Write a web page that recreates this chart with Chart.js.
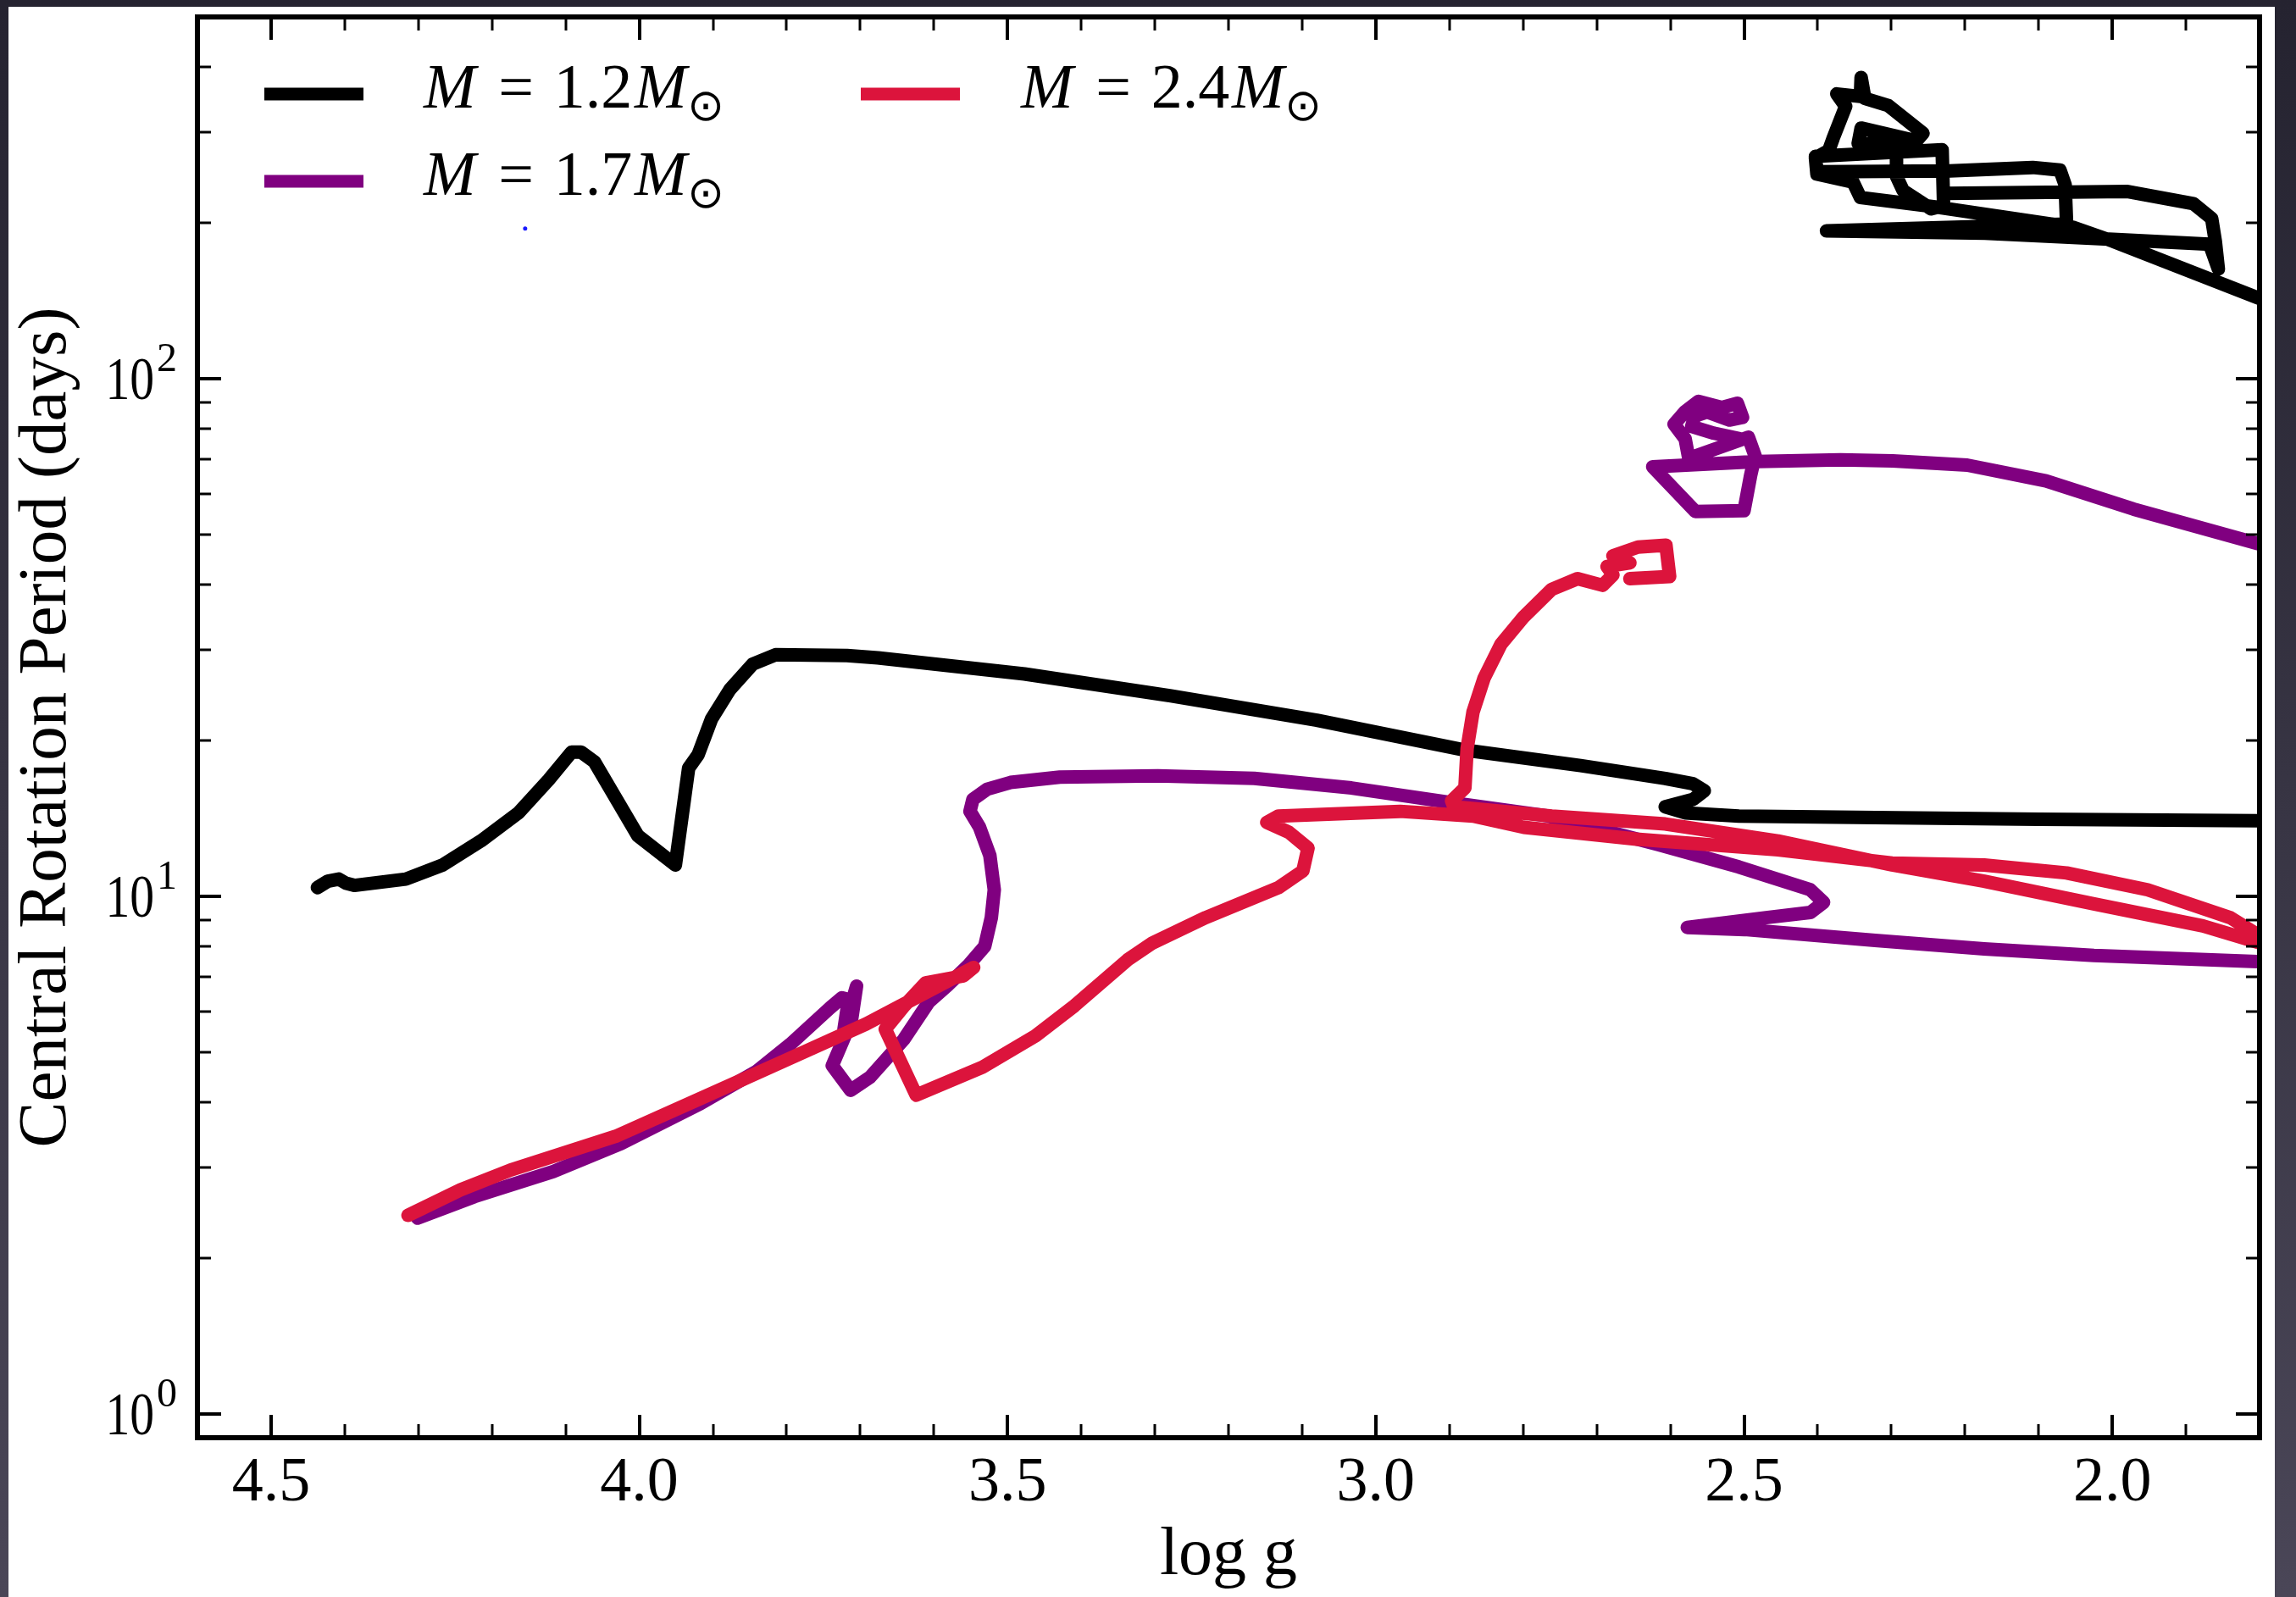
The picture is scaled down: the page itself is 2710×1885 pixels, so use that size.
<!DOCTYPE html>
<html>
<head>
<meta charset="utf-8">
<title>Central rotation period vs log g</title>
<script src="https://cdn.jsdelivr.net/npm/chart.js@4.4.1/dist/chart.umd.min.js"></script>
<style>
  html, body { margin: 0; padding: 0; }
  body {
    width: 2710px; height: 1885px; overflow: hidden; position: relative;
    background: linear-gradient(to bottom, #252330, #4a4657);
  }
  #sheet { position: absolute; left: 10px; top: 8px; width: 2675px; height: 1877px; background: #ffffff; }
  canvas { display: block; }
</style>
</head>
<body>
<div id="sheet"><canvas id="chart" width="2675" height="1877"></canvas></div>
<script>
// ---- data: log g (x) and central rotation period in days (y) for each stellar mass ----
const massLabels = ['1.2', '1.7', '2.4'];

// 1.2 Msun track (red giant branch, then the He-flash loops near log g ~ 2.3)
const logg12 = [4.437, 4.423, 4.408, 4.398, 4.387, 4.317, 4.267, 4.215, 4.164, 4.123,
  4.092, 4.079, 4.061, 4.002, 3.951, 3.933, 3.920, 3.902, 3.877, 3.846,
  3.815, 3.718, 3.676, 3.477, 3.278, 3.080, 2.882, 2.722, 2.607, 2.569,
  2.554, 2.569, 2.607, 2.580, 2.507, 2.322, 2.099, 1.802,
  1.695, 1.695,
  1.803, 1.999, 2.054, 2.241, 2.342, 2.352, 2.401, 2.403, 2.385, 2.379,
  2.362, 2.374, 2.342, 2.341, 2.336, 2.304, 2.257, 2.266, 2.341, 2.345,
  2.293, 2.293, 2.284, 2.246, 2.229, 2.231, 2.403, 2.401, 2.221, 2.108,
  2.071, 2.064, 2.062, 2.388, 2.173, 1.999, 1.868, 1.856, 1.860, 1.865,
  1.890, 1.979, 2.226];
const period12 = [10.4, 10.7, 10.8, 10.6, 10.5, 10.8, 11.5, 12.8, 14.5, 16.8,
  19.0, 19.0, 18.2, 13.1, 11.5, 17.7, 18.8, 22.0, 25.1, 28.1,
  29.3, 29.2, 28.9, 26.9, 24.4, 21.9, 19.2, 17.9, 16.9, 16.5,
  16.0, 15.4, 14.9, 14.5, 14.3, 14.2, 14.1, 14.0,
  14.0, 125,
  143.5, 184.4, 196.3, 214.8, 223.9, 239.9, 248.5, 266.9, 276.0, 291.5,
  336, 355, 351, 382, 348, 337, 298, 288, 305, 285,
  284, 246, 231, 213, 216, 277, 269, 251, 252, 256,
  253, 237, 199, 193, 191, 186, 182, 163, 184, 204,
  218, 230, 228];

// 1.7 Msun track
const logg17 = [4.301, 4.224, 4.117, 4.025, 3.917, 3.841, 3.795, 3.741, 3.725, 3.716,
  3.722, 3.705, 3.712, 3.738, 3.713, 3.687, 3.641, 3.607, 3.581, 3.554,
  3.531, 3.522, 3.518, 3.524, 3.538, 3.551, 3.547, 3.528, 3.496, 3.429,
  3.296, 3.165, 3.033, 2.901, 2.766, 2.617, 2.507, 2.410, 2.392, 2.410,
  2.470, 2.577, 2.499, 2.322, 2.174, 2.025, 1.803,
  1.695, 1.695,
  1.806, 1.971, 2.090, 2.197, 2.298, 2.369, 2.482, 2.624, 2.566, 2.500,
  2.491, 2.485, 2.494, 2.575, 2.580, 2.595, 2.580, 2.562, 2.530, 2.509,
  2.502, 2.520, 2.550, 2.567, 2.571, 2.541, 2.506];
const period17 = [2.39, 2.63, 2.94, 3.33, 3.98, 4.59, 5.18, 6.09, 6.37, 6.32,
  5.54, 6.71, 5.75, 4.71, 4.22, 4.47, 5.29, 6.25, 6.74, 7.34,
  8.01, 9.10, 10.3, 12.0, 13.6, 14.6, 15.4, 16.1, 16.6, 17.0,
  17.1, 16.9, 16.2, 15.2, 14.3, 12.6, 11.4, 10.3, 9.74, 9.31,
  9.10, 8.71, 8.63, 8.22, 7.92, 7.69, 7.48,
  7.4, 43.5,
  48.2, 56.0, 63.5, 68.1, 69.4, 69.7, 69.2, 67.6, 55.4, 55.6,
  65.1, 71.0, 77.1, 70.2, 76.6, 81.7, 86.4, 90.4, 88.0, 89.7,
  84.2, 83.2, 86.3, 84.7, 80.9, 78.5, 76.6];

// 2.4 Msun track
const logg24 = [4.314, 4.243, 4.175, 4.032, 3.917, 3.802, 3.692, 3.603, 3.546, 3.560,
  3.611, 3.640, 3.666, 3.624, 3.534, 3.462, 3.409, 3.337, 3.303, 3.231,
  3.132, 3.099, 3.092, 3.118, 3.148, 3.132, 2.967, 2.868, 2.799, 2.646,
  2.454, 2.299, 2.174, 2.062, 1.952, 1.840, 1.803,
  1.695, 1.695,
  1.803, 1.877, 2.025, 2.174, 2.299, 2.454, 2.607, 2.761, 2.894,
  2.897, 2.879, 2.876, 2.868, 2.853, 2.830, 2.799, 2.761, 2.726,
  2.692, 2.678, 2.686, 2.655, 2.678, 2.644, 2.606, 2.601, 2.655];
const period24 = [2.42, 2.71, 2.96, 3.44, 4.07, 4.82, 5.67, 6.61, 7.29, 7.02,
  6.81, 6.15, 5.54, 4.13, 4.68, 5.38, 6.15, 7.54, 8.13, 9.10,
  10.4, 11.2, 12.4, 13.3, 13.9, 14.3, 14.6, 14.3, 13.6, 12.9,
  12.3, 11.6, 11.5, 11.1, 10.3, 9.10, 8.44,
  6.8, 7.3,
  8.16, 8.77, 9.67, 10.7, 11.5, 12.8, 13.8, 14.3, 14.9,
  15.3, 16.2, 19.3, 22.7, 26.4, 30.7, 34.7, 39.2, 41.1,
  39.9, 41.8, 43.4, 44.1, 45.5, 47.3, 47.7, 41.5, 41.1];

// a single stray marker
const strayLogg = [4.155];
const strayPeriod = [195];

// axis ticks
const xTickValues = [2.0, 2.5, 3.0, 3.5, 4.0, 4.5];
const yDecades = [0, 1, 2];

const SERIF = "'Liberation Serif', 'Times New Roman', serif";
const toPoints = (xs, ys) => xs.map((v, i) => ({ x: v, y: ys[i] }));

const trackStyle = (color, order) => ({
  showLine: true,
  borderColor: color,
  backgroundColor: color,
  borderWidth: 16,
  borderJoinStyle: 'round',
  borderCapStyle: 'round',
  pointRadius: 0,
  pointHoverRadius: 0,
  pointHitRadius: 0,
  clip: 0,
  order: order
});

const datasets = [
  Object.assign({ label: 'M = ' + massLabels[0] + 'M\u2299', mass: massLabels[0], data: toPoints(logg12, period12) }, trackStyle('#000000', 2)),
  Object.assign({ label: 'M = ' + massLabels[1] + 'M\u2299', mass: massLabels[1], data: toPoints(logg17, period17) }, trackStyle('#800080', 1)),
  Object.assign({ label: 'M = ' + massLabels[2] + 'M\u2299', mass: massLabels[2], data: toPoints(logg24, period24) }, trackStyle('#dc143c', 0)),
  { label: 'marker', data: toPoints(strayLogg, strayPeriod), showLine: false, pointRadius: 2.5,
    pointBackgroundColor: '#1a1aff', pointBorderWidth: 0, order: 3 }
];

// frame, inward ticks on all four sides and the 10^n labels of the log axis
const axisFrame = {
  id: 'axisFrame',
  afterDatasetsDraw(chart) {
    const { ctx, chartArea: a, scales } = chart;
    const xs = scales.x, ys = scales.y;
    ctx.save();
    ctx.strokeStyle = '#000';
    ctx.lineCap = 'butt';
    for (let k = 19; k <= 45; k++) {
      const major = k % 5 === 0;
      const px = Math.round(xs.getPixelForValue(k / 10));
      const len = major ? 27 : 16;
      ctx.lineWidth = major ? 4 : 3;
      ctx.beginPath();
      ctx.moveTo(px, a.bottom); ctx.lineTo(px, a.bottom - len);
      ctx.moveTo(px, a.top); ctx.lineTo(px, a.top + len);
      ctx.stroke();
    }
    for (let e = -1; e <= 2; e++) {
      for (let m = 1; m <= 9; m++) {
        const v = m * Math.pow(10, e);
        if (v <= ys.min * 1.0001 || v >= ys.max) continue;
        const major = m === 1;
        const py = Math.round(ys.getPixelForValue(v));
        const len = major ? 28 : 16;
        ctx.lineWidth = major ? 4 : 3;
        ctx.beginPath();
        ctx.moveTo(a.left, py); ctx.lineTo(a.left + len, py);
        ctx.moveTo(a.right, py); ctx.lineTo(a.right - len, py);
        ctx.stroke();
      }
    }
    ctx.lineWidth = 6;
    ctx.strokeRect(a.left, a.top, a.right - a.left, a.bottom - a.top);

    // 10^n labels
    ctx.fillStyle = '#000';
    ctx.textBaseline = 'alphabetic';
    for (const n of yDecades) {
      const py = ys.getPixelForValue(Math.pow(10, n));
      ctx.save();
      ctx.translate(a.left - 51, py + 24);
      ctx.scale(0.8, 1);
      ctx.font = '72px ' + SERIF;
      ctx.textAlign = 'right';
      ctx.fillText('10', 0, 0);
      ctx.restore();
      ctx.font = '48px ' + SERIF;
      ctx.textAlign = 'left';
      ctx.fillText(String(n), a.left - 48, py - 9);
    }
    ctx.restore();
  }
};

// two-column legend: italic M, roman mass value, subscript solar symbol
const massLegend = {
  id: 'massLegend',
  afterDraw(chart) {
    const { ctx, chartArea: a } = chart;
    const slots = [[0, 0], [0, 1], [1, 0]];
    const sampleX = [79, 783], textX = [267, 972], rowY = [91, 194];
    ctx.save();
    chart.data.datasets.forEach((ds, i) => {
      if (!ds.mass) return;
      const [c, r] = slots[i];
      const y = a.top + rowY[r];
      const x0 = a.left + sampleX[c];
      ctx.strokeStyle = ds.borderColor;
      ctx.lineWidth = 15;
      ctx.lineCap = 'butt';
      ctx.beginPath();
      ctx.moveTo(x0, y); ctx.lineTo(x0 + 117, y);
      ctx.stroke();

      const tx = a.left + textX[c];
      const base = y + 16;
      ctx.fillStyle = '#000';
      ctx.textBaseline = 'alphabetic';
      ctx.textAlign = 'left';
      ctx.font = 'italic 74px ' + SERIF;
      ctx.fillText('M', tx, base);
      ctx.textAlign = 'center';
      ctx.font = '74px ' + SERIF;
      ctx.fillText('=', tx + 109, base);
      ctx.fillText(ds.mass, tx + 200, base);
      ctx.textAlign = 'left';
      ctx.font = 'italic 74px ' + SERIF;
      ctx.fillText('M', tx + 249, base);
      ctx.textAlign = 'center';
      ctx.textBaseline = 'middle';
      ctx.font = "52px 'DejaVu Sans', sans-serif";
      ctx.fillText('\u2299', tx + 333, base + 1);
    });
    ctx.restore();
  }
};

new Chart(document.getElementById('chart'), {
  type: 'scatter',
  data: { datasets: datasets },
  options: {
    responsive: false,
    animation: false,
    devicePixelRatio: 1,
    events: [],
    layout: { padding: { left: 0, right: 18, top: 12, bottom: 0 } },
    plugins: { legend: { display: false }, tooltip: { enabled: false } },
    scales: {
      x: {
        type: 'linear', reverse: true, min: 1.8, max: 4.6,
        grid: { display: false, drawTicks: false },
        border: { display: false },
        ticks: {
          color: '#000', padding: 18, includeBounds: false, maxRotation: 0,
          font: { family: SERIF, size: 74, lineHeight: 1 },
          callback: (v) => Number(v).toFixed(1)
        },
        afterBuildTicks: (s) => { s.ticks = xTickValues.map((v) => ({ value: v })); },
        afterFit: (s) => { s.height = 188; },
        title: {
          display: true, text: 'log g', color: '#000',
          font: { family: SERIF, size: 80, lineHeight: 1 },
          padding: { top: 0, bottom: 8 }
        }
      },
      y: {
        type: 'logarithmic', min: 0.9, max: 500,
        grid: { display: false, drawTicks: false },
        border: { display: false },
        ticks: { display: false },
        afterFit: (s) => { s.width = 223; },
        title: {
          display: true, text: 'Central Rotation Period (days)', color: '#000',
          font: { family: SERIF, size: 81, lineHeight: 1 },
          padding: { top: 5, bottom: 0 }
        }
      }
    }
  },
  plugins: [axisFrame, massLegend]
});
</script>
</body>
</html>
